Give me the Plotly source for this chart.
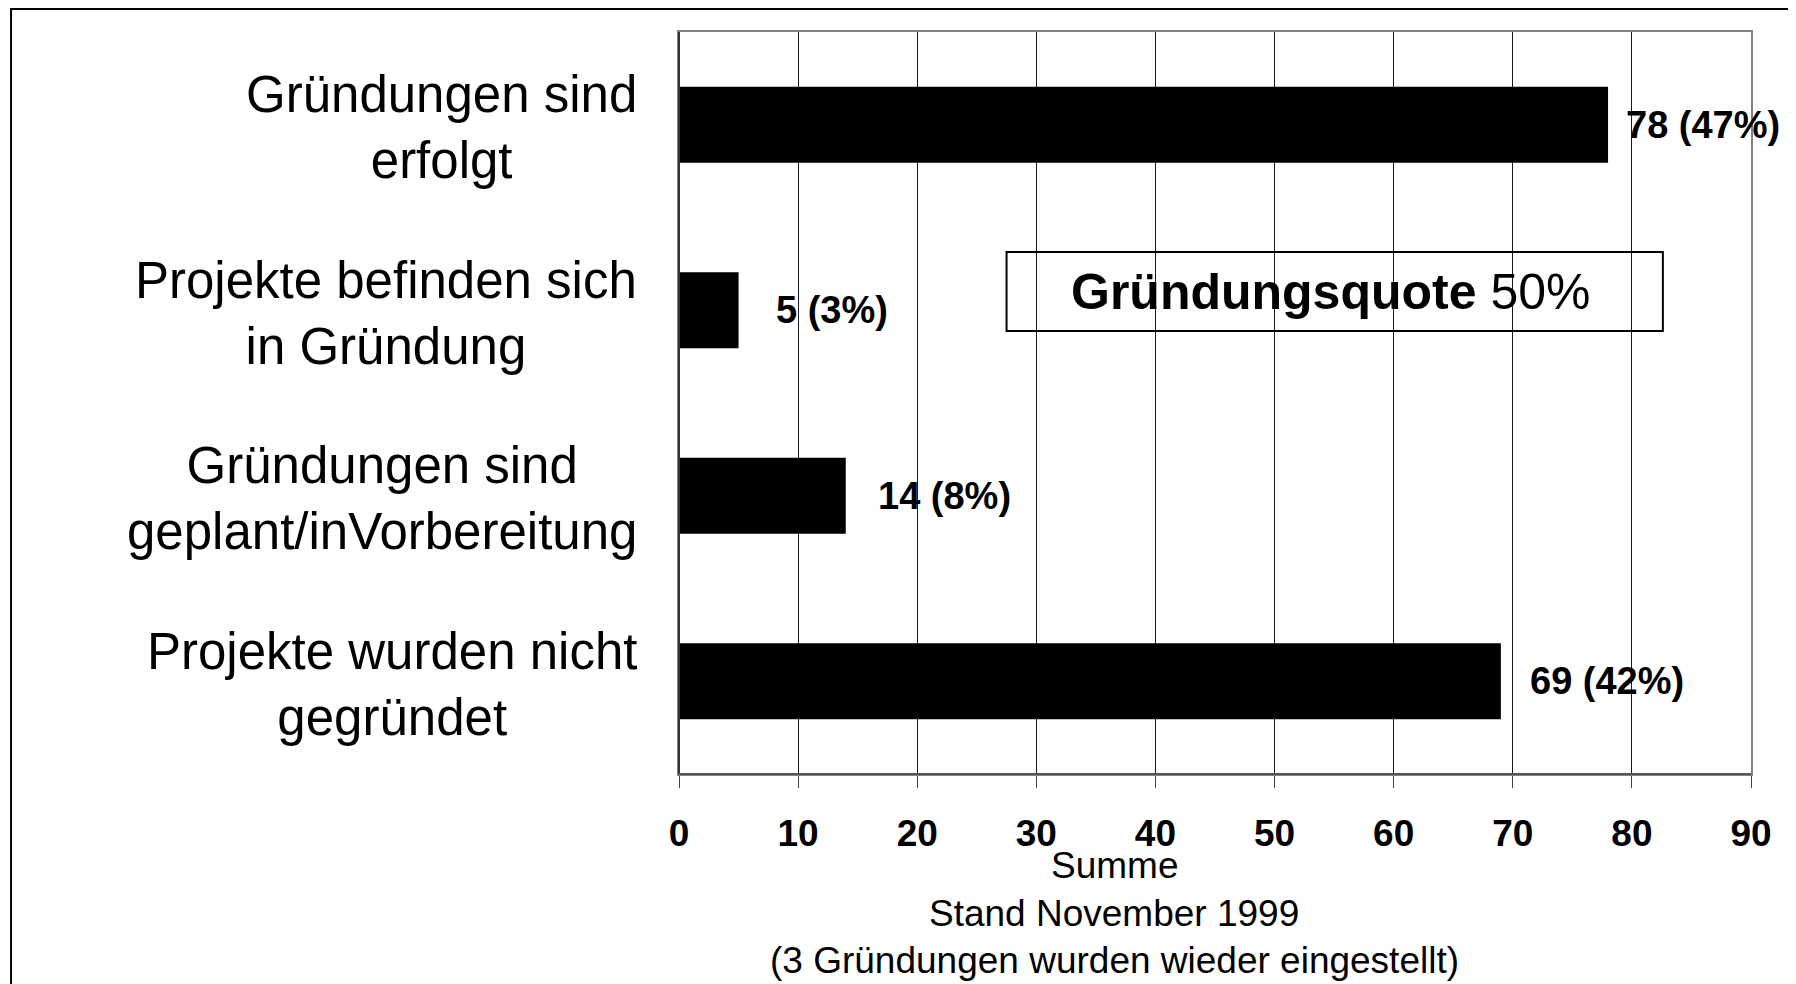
import plotly.graph_objects as go

categories = [
    "Gründungen sind<br>erfolgt",
    "Projekte befinden sich<br>in Gründung",
    "Gründungen sind<br>geplant/inVorbereitung",
    "Projekte wurden nicht<br>gegründet",
]
values = [78, 5, 14, 69]
shares = ["47%", "3%", "8%", "42%"]
tick_vals = [0, 10, 20, 30, 40, 50, 60, 70, 80, 90]
quote_text = "<b>Gründungsquote</b> 50%"
axis_title = "Summe"
notes = ["Stand November 1999", "(3 Gründungen wurden wieder eingestellt)"]

label_shift = [16, 35, 30, 27]

FONT = "Liberation Sans, Arial, sans-serif"

fig = go.Figure()
fig.add_trace(go.Bar(
    y=categories, x=values, orientation="h",
    marker=dict(color="black", line=dict(width=0)),
    width=0.41, showlegend=False, hoverinfo="skip",
))

ann = []
# category labels (centered multi-line, right anchored)
for c in categories:
    ann.append(dict(x=0, xref="paper", y=c, yref="y", text=c, showarrow=False,
                    xanchor="right", yanchor="middle", align="center", xshift=-40,
                    yshift=-3,
                    font=dict(family=FONT, size=51, color="black")))
# value labels
for c, v, s, sh in zip(categories, values, shares, label_shift):
    ann.append(dict(x=v, xref="x", y=c, yref="y", text=f"<b>{v} ({s})</b>",
                    showarrow=False, xanchor="left", yanchor="middle", xshift=sh,
                    font=dict(family=FONT, size=38, color="black")))
# quote box text
ann.append(dict(x=55.05, xref="x", y=0.65, yref="paper", text=quote_text, showarrow=False,
                xanchor="center", yanchor="middle", xshift=-4,
                font=dict(family=FONT, size=50, color="black")))
# axis title and notes
for txt, ys in zip([axis_title] + notes, [-91, -139, -186]):
    ann.append(dict(x=0.406, xref="paper", y=0, yref="paper", text=txt, showarrow=False,
                    xanchor="center", yanchor="middle", yshift=ys,
                    font=dict(family=FONT, size=37, color="black")))

shapes = [
    dict(type="rect", xref="x", yref="paper", x0=27.5, x1=82.6, y0=0.597, y1=0.7035,
         line=dict(color="black", width=2), fillcolor="rgba(0,0,0,0)", layer="above"),
    dict(type="rect", xref="paper", yref="paper", x0=-0.6231, x1=1.06, y0=-0.35, y1=1.031,
         line=dict(color="black", width=2), fillcolor="rgba(0,0,0,0)", layer="above"),
    dict(type="line", xref="paper", yref="paper", x0=0, x1=0, y0=0, y1=1,
         line=dict(color="#333333", width=2), layer="above"),
    dict(type="line", xref="paper", yref="paper", x0=0, x1=1, y0=0, y1=0,
         line=dict(color="#555555", width=2), layer="above"),
]

fig.update_layout(
    width=1796, height=984,
    margin=dict(l=671, r=53, t=24, b=218, autoexpand=False),
    paper_bgcolor="white", plot_bgcolor="white",
    bargap=0.59,
    annotations=ann, shapes=shapes,
    font=dict(family=FONT, color="black"),
    xaxis=dict(range=[0, 90], tickvals=tick_vals, ticktext=[str(t) for t in tick_vals],
               showgrid=True, gridcolor="#1a1a1a", gridwidth=1,
               showline=True, linecolor="#808080", linewidth=2, mirror=True,
               ticks="outside", ticklen=12, tickcolor="#444444", tickwidth=1,
               ticklabelstandoff=14,
               tickfont=dict(family=FONT, size=37, color="black", weight="bold"),
               zeroline=False, fixedrange=True),
    yaxis=dict(categoryorder="array", categoryarray=categories[::-1],
               showticklabels=False, showgrid=False,
               showline=True, linecolor="#808080", linewidth=2, mirror=True,
               zeroline=False, fixedrange=True),
)

fig.write_html("out.html")
